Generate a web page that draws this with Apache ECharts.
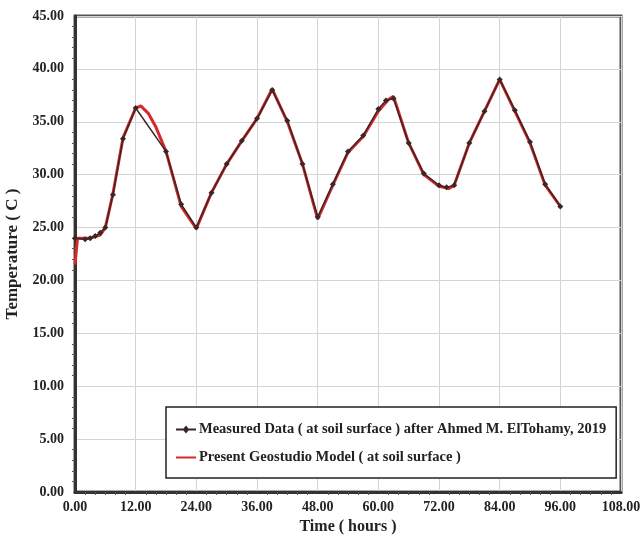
<!DOCTYPE html>
<html>
<head>
<meta charset="utf-8">
<script src="https://cdn.jsdelivr.net/npm/echarts@6/dist/echarts.min.js"></script>
<style>html,body{margin:0;padding:0;background:#fff;}#c{width:643px;height:551px;}</style>
</head>
<body>
<div id="c"></div>
<script>
var xTicks = [0, 12, 24, 36, 48, 60, 72, 84, 96, 108];
var yTicks = [0, 5, 10, 15, 20, 25, 30, 35, 40, 45];

var measuredTime = [0, 2, 3, 4, 5, 6, 7.5, 9.5, 12, 18, 21, 24, 27, 30, 33, 36, 39, 42, 45, 48, 51, 54, 57, 60, 61.5, 63, 66, 69, 72, 73.5, 75, 78, 81, 84, 87, 90, 93, 96];
var measuredTemp = [24.0, 23.9, 24.0, 24.2, 24.5, 25.0, 28.1, 33.4, 36.3, 32.2, 27.2, 25.0, 28.3, 31.0, 33.2, 35.3, 38.0, 35.1, 31.0, 26.0, 29.1, 32.2, 33.7, 36.2, 37.0, 37.2, 33.0, 30.1, 29.0, 28.8, 29.0, 33.0, 36.0, 39.0, 36.1, 33.1, 29.1, 27.0];

var modelTime = [0, 0.5, 3, 5, 6, 7.5, 9.5, 12, 13, 14.5, 16, 18, 21, 24, 27, 30, 33, 36, 39, 42, 45, 48, 51, 54, 57, 60, 62, 63, 66, 69, 72, 74, 75, 78, 81, 84, 87, 90, 93, 96];
var modelTemp = [21.5, 24.0, 24.0, 24.3, 25.0, 28.2, 33.5, 36.3, 36.5, 35.8, 34.5, 32.2, 27.0, 24.9, 28.3, 31.0, 33.2, 35.3, 38.1, 35.0, 31.0, 25.8, 29.0, 32.1, 33.6, 36.0, 37.1, 37.4, 33.0, 30.0, 28.9, 28.7, 29.0, 33.0, 36.0, 39.0, 36.0, 33.0, 29.0, 27.0];

var measuredName = 'Measured Data ( at soil surface ) after Ahmed M. ElTohamy, 2019';
var modelName = 'Present Geostudio Model ( at soil surface )';

function pairs(xs, ys) { return xs.map(function (x, i) { return [x, ys[i]]; }); }

var font = 'Liberation Serif';
var chart = echarts.init(document.getElementById('c'));
chart.setOption({
  animation: false,
  backgroundColor: '#fff',
  grid: { left: 75, right: 22, top: 16, bottom: 59, show: true, borderColor: '#555', borderWidth: 3,
    containLabel: false, outerBoundsMode: 'none' },
  legend: {
    orient: 'vertical',
    left: 166, top: 407,
    padding: [15, 10, 13, 10],
    itemGap: 13,
    itemWidth: 20, itemHeight: 10,
    borderColor: '#222', borderWidth: 1.5,
    backgroundColor: '#fff',
    textStyle: { fontFamily: font, fontWeight: 'bold', fontSize: 14.5, color: '#222', padding: [0, 0, 0, -2] },
    data: [
      { name: measuredName, icon: 'path://M0,4 L7.5,4 L10,1 L12.5,4 L20,4 L20,6 L12.5,6 L10,9 L7.5,6 L0,6 Z' },
      { name: modelName, icon: 'path://M0,4 L20,4 L20,6 L0,6 Z' }
    ]
  },
  xAxis: {
    type: 'value', min: 0, max: 108, interval: 12,
    name: 'Time ( hours )', nameLocation: 'middle', nameGap: 26,
    nameTextStyle: { fontFamily: font, fontWeight: 'bold', fontSize: 16, color: '#222' },
    axisLine: { show: true, lineStyle: { color: '#333', width: 3 } },
    axisTick: { show: false },
    minorTick: { show: true, splitNumber: 6, length: 3, lineStyle: { color: '#555' } },
    splitLine: { show: true, lineStyle: { color: '#d4d4d4', width: 1 } },
    axisLabel: { fontFamily: font, fontWeight: 'bold', fontSize: 14, color: '#222', margin: 8,
      formatter: function (v) { return v.toFixed(2); } }
  },
  yAxis: {
    type: 'value', min: 0, max: 45, interval: 5,
    name: 'Temperature ( C )', nameLocation: 'middle', nameGap: 51, nameRotate: 90,
    nameTextStyle: { fontFamily: font, fontWeight: 'bold', fontSize: 17, color: '#222' },
    axisLine: { show: true, lineStyle: { color: '#333', width: 3 } },
    axisTick: { show: false },
    minorTick: { show: true, splitNumber: 5, length: 3, lineStyle: { color: '#555' } },
    splitLine: { show: true, lineStyle: { color: '#d4d4d4', width: 1 } },
    axisLabel: { fontFamily: font, fontWeight: 'bold', fontSize: 14, color: '#222', margin: 11,
      formatter: function (v) { return v.toFixed(2); } }
  },
  series: [
    {
      name: modelName, type: 'line', data: pairs(modelTime, modelTemp),
      showSymbol: false, symbol: 'none', z: 2,
      lineStyle: { color: '#d42a2a', width: 3 }, itemStyle: { color: '#d42a2a' }
    },
    {
      name: measuredName, type: 'line', data: pairs(measuredTime, measuredTemp),
      symbol: 'diamond', symbolSize: 6, z: 3,
      lineStyle: { color: '#3a2626', width: 1.5 }, itemStyle: { color: '#3a2626' }
    }
  ]
});
</script>
</body>
</html>
